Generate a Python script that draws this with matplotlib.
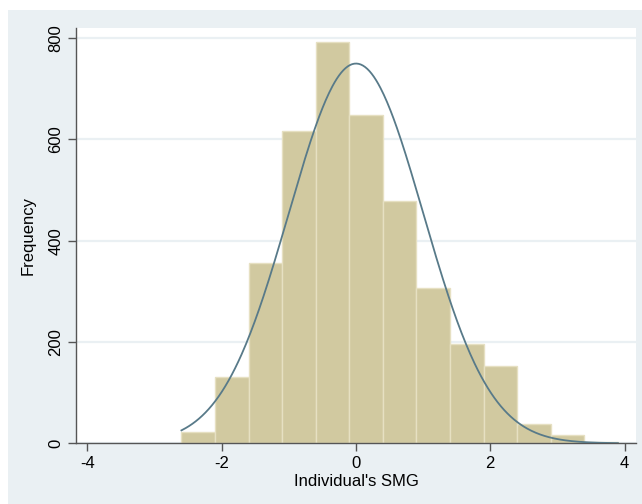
import numpy as np
import matplotlib
matplotlib.use("Agg")
import matplotlib.pyplot as plt
from matplotlib.patches import Rectangle

plt.rcParams['font.family'] = ['Liberation Sans', 'DejaVu Sans']

# histogram bins (left edges, width 0.5) and counts
bin_edges = [-2.6, -2.1, -1.6, -1.1, -0.6, -0.1, 0.4, 0.9, 1.4, 1.9, 2.4, 2.9, 3.4, 3.9]
counts = [22, 130, 356, 617, 793, 649, 478, 307, 197, 153, 39, 16, 2]

# fitted normal overlay
fit_mean = 0.0
fit_sd = 1.0

xticks = [-4, -2, 0, 2, 4]
yticks = [0, 200, 400, 600, 800]

bar_col = '#D1C9A0'
edge_col = '#E6E0C2'
curve_col = '#587A89'
bg_col = '#EAF0F3'

fig = plt.figure(figsize=(6.42, 5.04), dpi=100)
fig.patch.set_facecolor('white')
# grey graph region (drawn under the axes)
fig.patches.append(Rectangle((8 / 642, 0), 634 / 642, 494 / 504,
                             transform=fig.transFigure, facecolor=bg_col,
                             edgecolor='none', zorder=-1))

ax = fig.add_axes([76 / 642, (504 - 443.3) / 504, 560 / 642, 415.3 / 504])
ax.set_facecolor('white')

edges = np.array(bin_edges)
ax.bar(edges[:-1], counts, width=np.diff(edges), align='edge',
       color=bar_col, edgecolor=edge_col, linewidth=1.0, zorder=2)

xs = np.linspace(edges[0], edges[-1], 400)
binw = edges[1] - edges[0]
dens = np.exp(-0.5 * ((xs - fit_mean) / fit_sd) ** 2) / (fit_sd * np.sqrt(2 * np.pi))
ax.plot(xs, dens * sum(counts) * binw, color=curve_col, linewidth=1.3, zorder=3)

ax.set_xlim(-4.17, 4.17)
ax.set_ylim(0, 820)
ax.set_xticks(xticks)
ax.set_yticks(yticks)
ax.set_xticklabels([str(t) for t in xticks], fontsize=12)
ax.set_yticklabels([str(t) for t in yticks], fontsize=12, rotation=90, va='center')
ax.tick_params(axis='both', length=6, width=1, color='#555555', pad=3)

ax.yaxis.grid(True, color=bg_col, linewidth=1.6, zorder=1)
ax.set_axisbelow(True)

for s in ['top', 'right']:
    ax.spines[s].set_visible(False)
for s in ['left', 'bottom']:
    ax.spines[s].set_color('#555555')
    ax.spines[s].set_linewidth(1.0)

ax.set_xlabel("Individual's SMG", fontsize=12, labelpad=2)
ax.set_ylabel('Frequency', fontsize=12, labelpad=9)

fig.savefig('out.png', dpi=100, facecolor=fig.get_facecolor())
